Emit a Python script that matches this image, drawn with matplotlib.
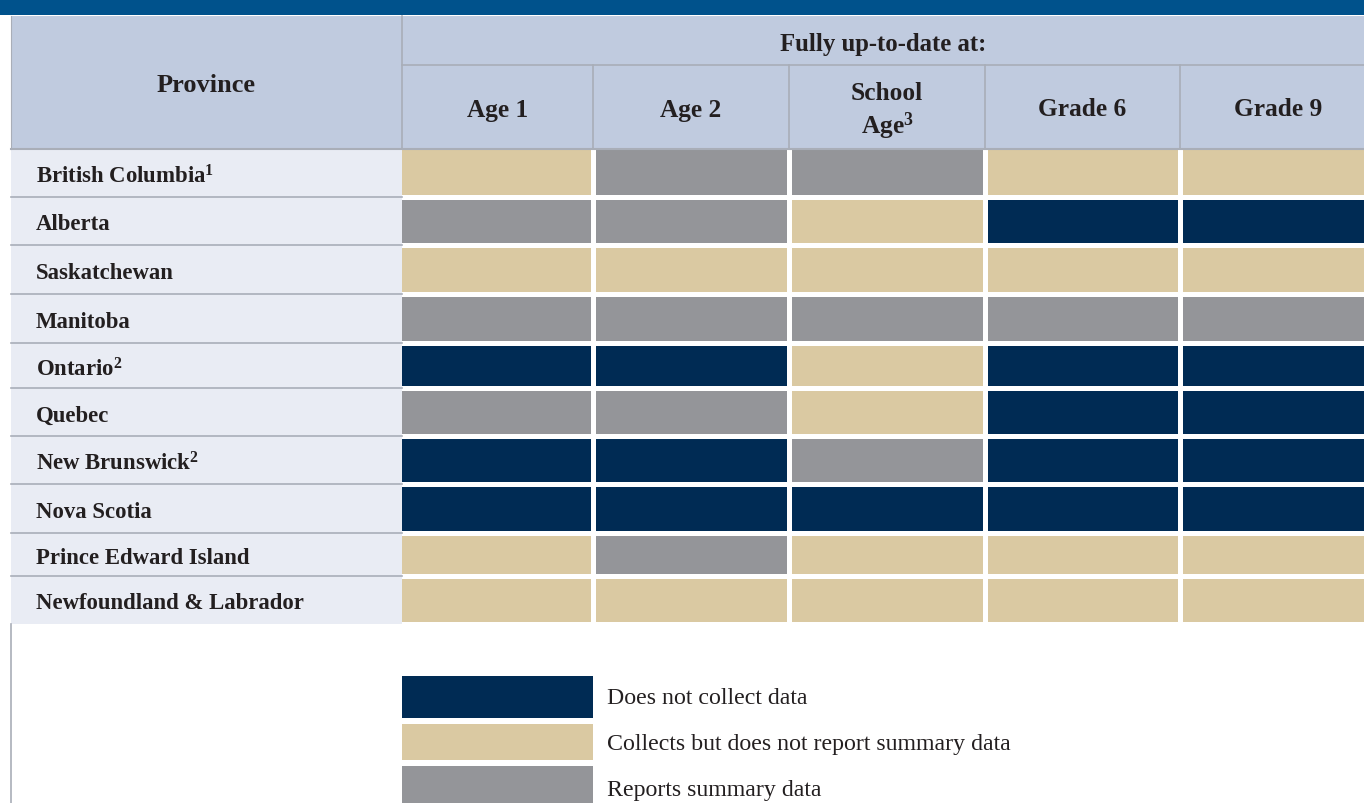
import matplotlib
matplotlib.use("Agg")
import matplotlib.pyplot as plt
from matplotlib.patches import Rectangle

#%% Data
provinces = ["British Columbia$^1$", "Alberta", "Saskatchewan", "Manitoba",
             "Ontario$^2$", "Quebec", "New Brunswick$^2$", "Nova Scotia",
             "Prince Edward Island", "Newfoundland & Labrador"]
columns = ["Age 1", "Age 2", "School\nAge$^3$", "Grade 6", "Grade 9"]
# 0 = does not collect, 1 = collects but does not report, 2 = reports summary
status = [
    [1, 2, 2, 1, 1],
    [2, 2, 1, 0, 0],
    [1, 1, 1, 1, 1],
    [2, 2, 2, 2, 2],
    [0, 0, 1, 0, 0],
    [2, 2, 1, 0, 0],
    [0, 0, 2, 0, 0],
    [0, 0, 0, 0, 0],
    [1, 2, 1, 1, 1],
    [1, 1, 1, 1, 1],
]
legend_labels = ["Does not collect data",
                 "Collects but does not report summary data",
                 "Reports summary data"]
status_colors = ["#002b54", "#dac9a2", "#949599"]

#%% Style
plt.rcParams['font.family'] = ['Liberation Serif', 'DejaVu Serif']
plt.rcParams['mathtext.fontset'] = 'custom'
plt.rcParams['mathtext.rm'] = 'Liberation Serif:bold'
plt.rcParams['mathtext.default'] = 'rm'

TOP_BAND = "#00528c"
HEAD_BG = "#c0cbdf"
LABEL_BG = "#e9ecf4"
LINE = "#a9aeb8"
TXT = "#231f20"

# layout in pixels
W, H = 1364, 804
col_edges = [402, 593, 789, 985, 1180, 1376]
row_edges = [150, 198, 246, 295, 344, 389, 437, 485, 534, 577, 625]
left_x = 11
leg_rows = [(677, 719), (725, 761), (767, 804)]
leg_text_y = [699, 745, 791]

fig = plt.figure(figsize=(W / 100, H / 100), dpi=100)
ax = fig.add_axes([0, 0, 1, 1])
ax.set_xlim(0, W)
ax.set_ylim(H, 0)
ax.axis("off")

# top band and header block
ax.add_patch(Rectangle((0, 0), W, 16, color=TOP_BAND, lw=0))
ax.add_patch(Rectangle((left_x, 17), W - left_x, row_edges[0] - 17, color=HEAD_BG, lw=0))
ax.plot([col_edges[0], col_edges[0]], [17, row_edges[0]], color=LINE, lw=1.2)
ax.plot([left_x, left_x], [17, row_edges[0]], color=LINE, lw=0.8)
ax.plot([left_x, left_x], [row_edges[-1], H], color=LINE, lw=1.2)
ax.plot([col_edges[0], W], [66, 66], color=LINE, lw=1.2)
for e in col_edges[1:-1]:
    ax.plot([e, e], [66, row_edges[0]], color=LINE, lw=1.2)
ax.plot([left_x, W], [row_edges[0], row_edges[0]], color=LINE, lw=1.5)

ax.text((left_x + col_edges[0]) / 2, 86, "Province", fontsize=19,
        fontweight="bold", color=TXT, ha="center", va="center")
ax.text((col_edges[0] + W) / 2, 44, "Fully up-to-date at:", fontsize=17.8,
        fontweight="bold", color=TXT, ha="center", va="center")
for j, name in enumerate(columns):
    cx = (col_edges[j] + min(col_edges[j + 1], W + 12)) / 2
    lines = name.split("\n")
    if len(lines) == 1:
        ys = [110]
    else:
        ys = [94, 126]
    for line, yy in zip(lines, ys):
        ax.text(cx, yy, line, fontsize=18.3, fontweight="bold", color=TXT,
                ha="center", va="center")

# label column and status cells
for i, prov in enumerate(provinces):
    y0, y1 = row_edges[i], row_edges[i + 1]
    ax.add_patch(Rectangle((left_x, y0), col_edges[0] - left_x, y1 - y0,
                           color=LABEL_BG, lw=0))
    if i > 0:
        ax.plot([left_x, col_edges[0]], [y0, y0], color=LINE, lw=1.2)
    ax.text(36, (y0 + y1) / 2 + 3, prov, fontsize=16.4, fontweight="bold",
            color=TXT, ha="left", va="center")
    top = y0 + (1 if i == 0 else 3)
    for j in range(len(columns)):
        x0 = col_edges[j] + (0 if j == 0 else 3)
        x1 = col_edges[j + 1] - 2
        ax.barh(top, x1 - x0, height=(y1 - 2) - top, left=x0, align="edge",
                color=status_colors[status[i][j]], lw=0)

# legend
for k, lab in enumerate(legend_labels):
    a, b = leg_rows[k]
    ax.barh(a, col_edges[1] - col_edges[0], height=b - a, left=col_edges[0],
            align="edge", color=status_colors[k], lw=0)
    ax.text(607, leg_text_y[k], lab, fontsize=17.2, color=TXT,
            ha="left", va="center")

fig.savefig("out.png", dpi=100)
